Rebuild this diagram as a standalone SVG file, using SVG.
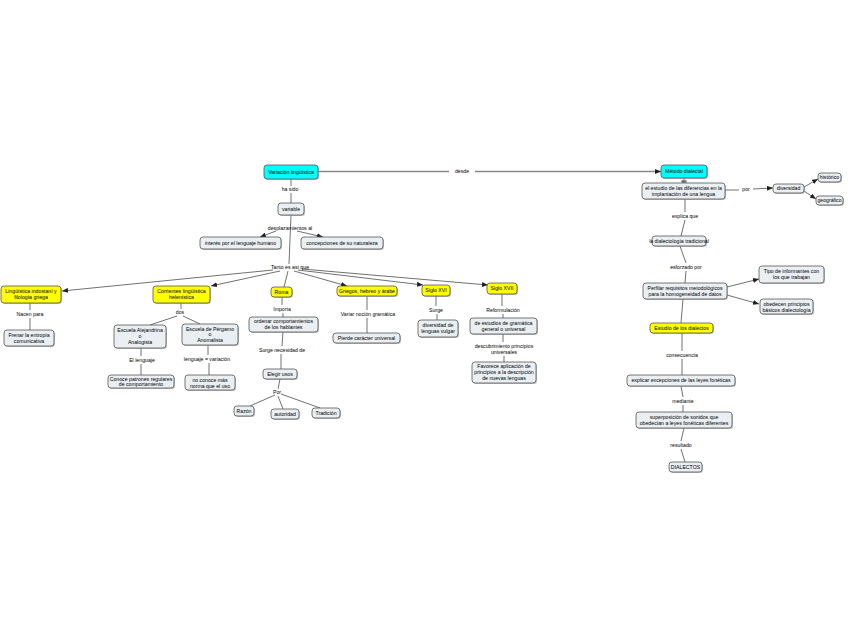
<svg xmlns="http://www.w3.org/2000/svg" width="848" height="638" viewBox="0 0 848 638">
<defs>
<style>
.b rect.f{fill:#e9eff3;stroke:#555;stroke-width:0.8}
.y rect.f{fill:#ffff00;stroke:#555;stroke-width:0.8}
.c rect.f{fill:#00ffff;stroke:#555;stroke-width:0.8}
rect.s{fill:#999;opacity:0.6}
text{font-family:"Liberation Sans",Arial,sans-serif;font-size:5.2px;fill:#000;text-anchor:middle}
.e path{fill:none;stroke:#333;stroke-width:0.7}
.e path.a{marker-end:url(#ah)}
.e path.d{stroke:#888;stroke-width:1.3}
</style>
<marker id="ah" markerUnits="userSpaceOnUse" markerWidth="6" markerHeight="5" refX="6" refY="2.5" orient="auto">
<path d="M0,0 L6,2.5 L0,5 z" fill="#222"/>
</marker>
</defs>
<rect width="848" height="638" fill="#fff"/>
<g id="edges" class="e">
<path d="M291,179 V186"/><path d="M291,193 V203"/>
<path d="M291,215 L289,264"/>
<path class="a" d="M276,231 L260,237"/>
<path class="a" d="M297,231 L323,237"/>
<path class="a" d="M273,270 L62,291"/>
<path class="a" d="M280,271 L211,286"/>
<path d="M288,271 L284,287"/>
<path class="a" d="M294,271 L347,286"/>
<path class="a" d="M298,270 L423,285"/>
<path class="a" d="M302,269 L488,285"/>
<path d="M30,303 V310"/><path d="M30,318 V330"/>
<path d="M181,303 V309"/><path d="M177,316 L150,325"/><path d="M183,316 L200,324"/>
<path d="M141,348 V356"/><path d="M141,364 V375"/>
<path d="M208,345 V355"/><path d="M209,363 V375"/>
<path d="M282,297 V305"/><path d="M283,313 V317"/>
<path d="M283,332 L282,346"/><path d="M281,354 V369"/>
<path d="M280,379 L278,389"/>
<path d="M275,395 L250,406"/><path d="M278,396 L283,409"/><path d="M281,394 L320,408"/>
<path d="M367,296 V310"/><path d="M367,318 V333"/>
<path d="M436,296 V306"/><path d="M437,314 V320"/>
<path d="M502,294 V306"/><path d="M503,314 V318"/>
<path d="M503,334 V342"/><path d="M504,356 V362"/>
<path class="d" d="M318,171.5 H449"/><path class="d a" d="M475,171.5 H661"/>
<path d="M684,178 V183"/>
<path d="M725,190 H739"/><path class="a" d="M753,189 L773,188"/>
<path class="a" d="M804,187 L818,179"/>
<path class="a" d="M804,191 L816,199"/>
<path d="M685,199 V212"/><path d="M685,220 L681,236"/>
<path d="M680,246 L686,263"/><path d="M686,271 L685,283"/>
<path class="a" d="M727,287 L759,279"/>
<path class="a" d="M727,295 L759,304"/>
<path d="M683,299 L681,323"/>
<path d="M682,333 V351"/><path d="M682,359 V375"/>
<path d="M681,386 L683,397"/><path d="M683,405 V412"/>
<path d="M684,428 L681,441"/><path d="M681,449 L685,462"/>
</g>
<g id="labels">
<text x="290" y="191">ha sido</text>
<text x="290" y="230">desplazamientos al</text>
<text x="290" y="269">Tanto es así que</text>
<text x="462" y="173">desde</text>
<text x="30" y="316">Nacen para</text>
<text x="180" y="314">dos</text>
<text x="142" y="362">El lenguaje</text>
<text x="207" y="361">lenguaje = variación</text>
<text x="282" y="311">Importa</text>
<text x="282" y="352">Surge necesidad de</text>
<text x="277" y="394">Por</text>
<text x="368" y="316">Variar noción gramática</text>
<text x="436" y="312">Surge</text>
<text x="503" y="312">Reformulación</text>
<text x="504" y="348">descubrimiento principios</text>
<text x="504" y="354">universales</text>
<text x="684" y="182.5">es</text>
<text x="746" y="191">por</text>
<text x="685" y="218">explica que</text>
<text x="686" y="269">esforzado por</text>
<text x="682" y="357">consecuencia</text>
<text x="683" y="403">mediante</text>
<text x="681" y="447">resultado</text>
</g>
<g id="n_variacion" class="c"><rect class="s" x="265" y="166" width="54" height="14" rx="3"/><rect class="f" x="264" y="165" width="54" height="14" rx="3"/><text x="291" y="173.8">Variación lingüística</text></g>
<g id="n_metodo" class="c"><rect class="s" x="662" y="166" width="46" height="13" rx="3"/><rect class="f" x="661" y="165" width="46" height="13" rx="3"/><text x="684" y="173.3">Método dialectal</text></g>
<g id="n_variable" class="b"><rect class="s" x="279" y="204" width="26" height="12" rx="3"/><rect class="f" x="278" y="203" width="26" height="12" rx="3"/><text x="291" y="210.8">variable</text></g>
<g id="n_interes" class="b"><rect class="s" x="201" y="238" width="81" height="12" rx="3"/><rect class="f" x="200" y="237" width="81" height="12" rx="3"/><text x="240.5" y="244.8">interés por el lenguaje humano</text></g>
<g id="n_concepciones" class="b"><rect class="s" x="302" y="238" width="82" height="12" rx="3"/><rect class="f" x="301" y="237" width="82" height="12" rx="3"/><text x="342" y="244.8">concepciones de su naturaleza</text></g>
<g id="n_linguistica" class="y"><rect class="s" x="2" y="287" width="60" height="17" rx="3"/><rect class="f" x="1" y="286" width="60" height="17" rx="3"/><text x="31" y="293.2">Lingüística indostaní y</text><text x="31" y="299.4">filología griega</text></g>
<g id="n_frenar" class="b"><rect class="s" x="5" y="331" width="50" height="16" rx="3"/><rect class="f" x="4" y="330" width="50" height="16" rx="3"/><text x="29" y="336.8">Frenar la entropía</text><text x="29" y="342.8">comunicativa</text></g>
<g id="n_corrientes" class="y"><rect class="s" x="154" y="287" width="57" height="17" rx="3"/><rect class="f" x="153" y="286" width="57" height="17" rx="3"/><text x="181.5" y="293.2">Corrientes lingüística</text><text x="181.5" y="299.4">helenística</text></g>
<g id="n_alejandrina" class="b"><rect class="s" x="115" y="326" width="52" height="23" rx="3"/><rect class="f" x="114" y="325" width="52" height="23" rx="3"/><text x="140" y="331.7">Escuela Alejandrina</text><text x="140" y="337.7">o</text><text x="140" y="343.7">Analogista</text></g>
<g id="n_pergamo" class="b"><rect class="s" x="183" y="325" width="56" height="21" rx="3"/><rect class="f" x="182" y="324" width="56" height="21" rx="3"/><text x="210" y="330.5">Escuela de Pérgamo</text><text x="210" y="336.2">o</text><text x="210" y="342">Anomalista</text></g>
<g id="n_conoce" class="b"><rect class="s" x="109" y="376" width="66" height="13" rx="3"/><rect class="f" x="108" y="375" width="66" height="13" rx="3"/><text x="141" y="380.7">Conoce patrones regulares</text><text x="141" y="386.2">de comportamiento</text></g>
<g id="n_noconoce" class="b"><rect class="s" x="186" y="376" width="50" height="15" rx="3"/><rect class="f" x="185" y="375" width="50" height="15" rx="3"/><text x="210" y="381.5">no conoce más</text><text x="210" y="387.5">norma que el uso</text></g>
<g id="n_roma" class="y"><rect class="s" x="272" y="288" width="21" height="10" rx="3"/><rect class="f" x="271" y="287" width="21" height="10" rx="3"/><text x="281.5" y="293.9">Roma</text></g>
<g id="n_ordenar" class="b"><rect class="s" x="250" y="318" width="69" height="15" rx="3"/><rect class="f" x="249" y="317" width="69" height="15" rx="3"/><text x="283.5" y="323.3">ordenar comportamientos</text><text x="283.5" y="329.3">de los hablantes</text></g>
<g id="n_elegir" class="b"><rect class="s" x="264" y="370" width="34" height="10" rx="3"/><rect class="f" x="263" y="369" width="34" height="10" rx="3"/><text x="280" y="375.9">Elegir usos</text></g>
<g id="n_razon" class="b"><rect class="s" x="235" y="407" width="20" height="10" rx="3"/><rect class="f" x="234" y="406" width="20" height="10" rx="3"/><text x="244" y="412.9">Razón</text></g>
<g id="n_autoridad" class="b"><rect class="s" x="272" y="410" width="28" height="10" rx="3"/><rect class="f" x="271" y="409" width="28" height="10" rx="3"/><text x="285" y="415.9">autoridad</text></g>
<g id="n_tradicion" class="b"><rect class="s" x="313" y="409" width="28" height="10" rx="3"/><rect class="f" x="312" y="408" width="28" height="10" rx="3"/><text x="326" y="414.9">Tradición</text></g>
<g id="n_griegos" class="y"><rect class="s" x="338" y="287" width="60" height="10" rx="3"/><rect class="f" x="337" y="286" width="60" height="10" rx="3"/><text x="367" y="292.9">Griegos, hebreo y árabe</text></g>
<g id="n_pierde" class="b"><rect class="s" x="334" y="334" width="67" height="10" rx="3"/><rect class="f" x="333" y="333" width="67" height="10" rx="3"/><text x="366.5" y="339.9">Pierde carácter universal</text></g>
<g id="n_xvi" class="y"><rect class="s" x="423" y="286" width="28" height="11" rx="3"/><rect class="f" x="422" y="285" width="28" height="11" rx="3"/><text x="436" y="292.4">Siglo XVI</text></g>
<g id="n_diversidad_lenguas" class="b"><rect class="s" x="419" y="321" width="40" height="17" rx="3"/><rect class="f" x="418" y="320" width="40" height="17" rx="3"/><text x="438" y="327.2">diversidad de</text><text x="438" y="333.2">lenguas vulgar</text></g>
<g id="n_xvii" class="y"><rect class="s" x="488" y="284" width="30" height="11" rx="3"/><rect class="f" x="487" y="283" width="30" height="11" rx="3"/><text x="502" y="290.4">Siglo XVII</text></g>
<g id="n_estudios" class="b"><rect class="s" x="471" y="319" width="67" height="16" rx="3"/><rect class="f" x="470" y="318" width="67" height="16" rx="3"/><text x="503.5" y="324.8">de estudios de gramática</text><text x="503.5" y="330.8">general o universal</text></g>
<g id="n_favorece" class="b"><rect class="s" x="473" y="363" width="64" height="21" rx="3"/><rect class="f" x="472" y="362" width="64" height="21" rx="3"/><text x="504" y="368.2">Favorece aplicación de</text><text x="504" y="374.2">principios a la descripción</text><text x="504" y="380.2">de nuevas lenguas</text></g>
<g id="n_estudio_dif" class="b"><rect class="s" x="643" y="184" width="83" height="16" rx="3"/><rect class="f" x="642" y="183" width="83" height="16" rx="3"/><text x="683.5" y="189.8">el estudio de las diferencias en la</text><text x="683.5" y="195.8">implantación de una lengua</text></g>
<g id="n_diversidad" class="b"><rect class="s" x="774" y="185" width="31" height="9" rx="3"/><rect class="f" x="773" y="184" width="31" height="9" rx="3"/><text x="788.5" y="190.4">diversidad</text></g>
<g id="n_historico" class="b"><rect class="s" x="819" y="174" width="23" height="9" rx="3"/><rect class="f" x="818" y="173" width="23" height="9" rx="3"/><text x="829.5" y="179.4">histórico</text></g>
<g id="n_geografico" class="b"><rect class="s" x="817" y="197" width="27" height="9" rx="3"/><rect class="f" x="816" y="196" width="27" height="9" rx="3"/><text x="829.5" y="202.4">geográfico</text></g>
<g id="n_dialectologia" class="b"><rect class="s" x="653" y="237" width="54" height="10" rx="3"/><rect class="f" x="652" y="236" width="54" height="10" rx="3"/><text x="679" y="242.9">la dialectología tradicional</text></g>
<g id="n_perfilar" class="b"><rect class="s" x="644" y="284" width="84" height="16" rx="3"/><rect class="f" x="643" y="283" width="84" height="16" rx="3"/><text x="685" y="289.8">Perfilar requisitos metodológicos</text><text x="685" y="295.8">para la homogeneidad de datos</text></g>
<g id="n_tipo" class="b"><rect class="s" x="760" y="267" width="65" height="17" rx="3"/><rect class="f" x="759" y="266" width="65" height="17" rx="3"/><text x="791.5" y="273.2">Tipo de informantes con</text><text x="791.5" y="279.2">los que trabajan</text></g>
<g id="n_obedecen" class="b"><rect class="s" x="761" y="300" width="53" height="15" rx="3"/><rect class="f" x="760" y="299" width="53" height="15" rx="3"/><text x="786.5" y="305.5">obedecen principios</text><text x="786.5" y="311.5">básicos dialectología</text></g>
<g id="n_estudio_dial" class="y"><rect class="s" x="651" y="324" width="63" height="10" rx="3"/><rect class="f" x="650" y="323" width="63" height="10" rx="3"/><text x="681.5" y="329.9">Estudio de los dialectos</text></g>
<g id="n_explicar" class="b"><rect class="s" x="628" y="376" width="108" height="11" rx="3"/><rect class="f" x="627" y="375" width="108" height="11" rx="3"/><text x="681" y="382.4">explicar excepciones de las leyes fonéticas</text></g>
<g id="n_superposicion" class="b"><rect class="s" x="637" y="413" width="96" height="16" rx="3"/><rect class="f" x="636" y="412" width="96" height="16" rx="3"/><text x="684" y="418.8">superposición de sonidos que</text><text x="684" y="424.8">obedecían a leyes fonéticas diferentes</text></g>
<g id="n_dialectos" class="b"><rect class="s" x="670" y="463" width="33" height="10" rx="3"/><rect class="f" x="669" y="462" width="33" height="10" rx="3"/><text x="685.5" y="468.9">DIALECTOS</text></g>
</svg>
